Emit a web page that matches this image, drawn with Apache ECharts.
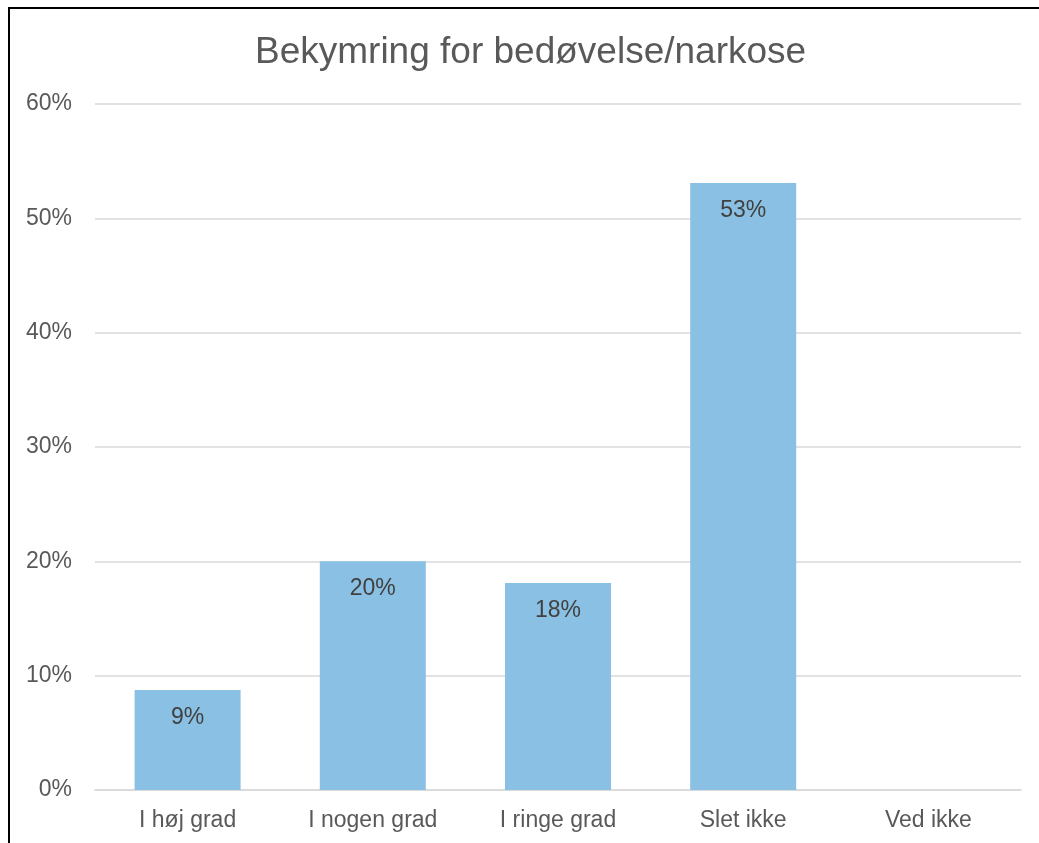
<!DOCTYPE html>
<html>
<head>
<meta charset="utf-8">
<script src="https://cdn.jsdelivr.net/npm/echarts@6/dist/echarts.min.js"></script>
<style>
html,body{margin:0;padding:0;background:#fff;}
#chart{position:absolute;left:0;top:0;width:1039px;height:843px;}
#frame{position:absolute;left:8px;top:7px;width:1031px;height:836px;border-top:2px solid #000;border-left:2px solid #000;box-sizing:border-box;pointer-events:none;}
</style>
</head>
<body>
<div id="chart"></div>
<div id="frame"></div>
<script>
const title = 'Bekymring for bedøvelse/narkose';
const categories = ['I høj grad', 'I nogen grad', 'I ringe grad', 'Slet ikke', 'Ved ikke'];
const values = [8.75, 20.0, 18.1, 53.1, 0];
const labels = ['9%', '20%', '18%', '53%', ''];

const chart = echarts.init(document.getElementById('chart'), null, {renderer: 'canvas'});
chart.setOption({
  animation: false,
  backgroundColor: '#fff',
  title: {
    text: title,
    left: 250,
    top: 29,
    textStyle: {color: '#595959', fontSize: 37, fontWeight: 'normal', fontFamily: 'Liberation Sans, Arial, sans-serif'}
  },
  grid: {left: 95, right: 18, top: 104, bottom: 53, containLabel: false},
  xAxis: {
    type: 'category',
    data: categories,
    axisLine: {show: true, lineStyle: {color: '#D9D9D9', width: 1.5}},
    axisTick: {show: false},
    axisLabel: {color: '#595959', fontSize: 23, margin: 19, fontFamily: 'Liberation Sans, Arial, sans-serif'}
  },
  yAxis: {
    type: 'value',
    min: 0, max: 60, interval: 10,
    axisLine: {show: false},
    axisTick: {show: false},
    splitLine: {lineStyle: {color: '#D9D9D9', width: 1.5}},
    axisLabel: {color: '#595959', fontSize: 23, margin: 23, formatter: '{value}%', fontFamily: 'Liberation Sans, Arial, sans-serif'}
  },
  series: [{
    type: 'bar',
    data: values,
    barWidth: 106,
    itemStyle: {color: '#8AC0E4'},
    label: {
      show: true,
      position: 'insideTop',
      distance: 16,
      color: '#404040',
      fontSize: 23,
      fontFamily: 'Liberation Sans, Arial, sans-serif',
      formatter: p => labels[p.dataIndex]
    }
  }]
});
</script>
</body>
</html>
